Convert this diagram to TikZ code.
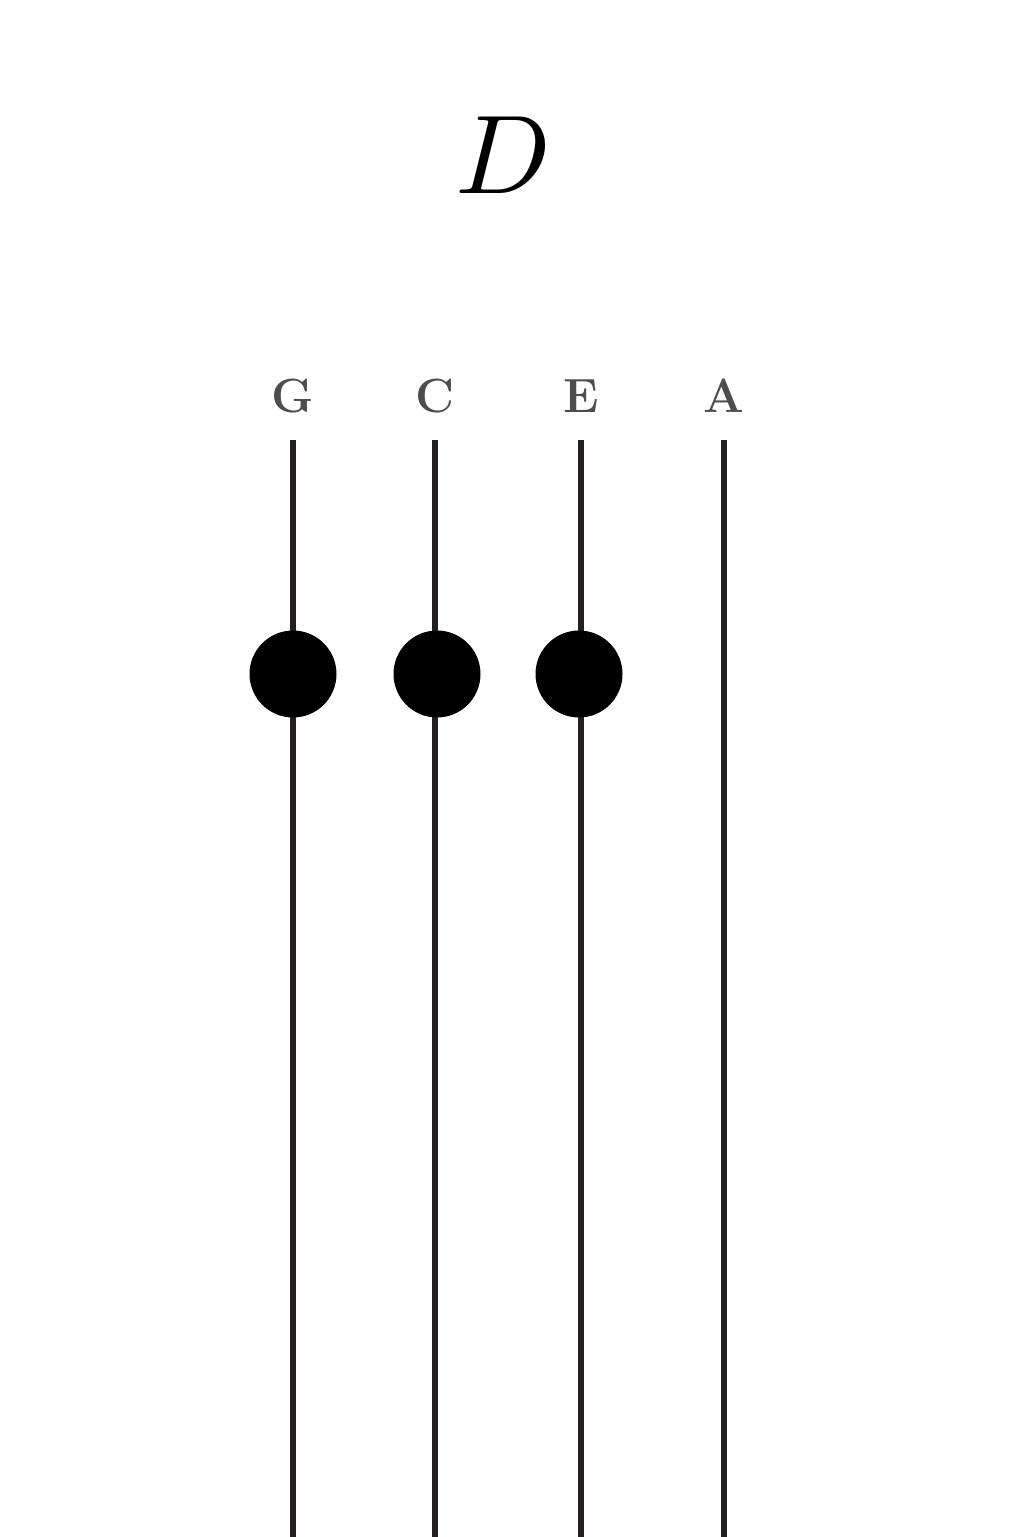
\documentclass[tikz,border=0pt]{standalone}
\usetikzlibrary{positioning, calc}
\definecolor{StringDark}{HTML}{231F20}
\definecolor{LabelGray}{HTML}{4D4D4D}
\tikzset{
    stringline/.style={line width=3pt, color=StringDark},
    fingerdot/.style={circle, fill=black, inner sep=0pt, minimum size=43.5pt},
    stringlabel/.style={text=LabelGray, font=\fontsize{24}{28}\selectfont\bfseries, anchor=base},
}

\begin{document}
\begin{tikzpicture}[x=0.5pt, y=-0.5pt]
    % Bounding box (pixel coordinates)
    \useasboundingbox (0,0) rectangle (1016,1537);

    % --- Titolo ---
    \node[scale=5.6] (title) at (503,155) {$D$};

    % --- Corde ---
    \foreach \name/\x in {G/293, C/435, E/581, A/724} {
        \coordinate (top\name) at (\x,440);
        \coordinate (bot\name) at (\x,1537);
        \node[stringlabel] (lab\name) at (\x,412) {\name};
        \draw[stringline] (top\name) -- (bot\name);
    }

    % --- Dita ---
    \node[fingerdot] (dotG) at (293,674) {};
    \node[fingerdot] (dotC) at (437,674) {};
    \node[fingerdot] (dotE) at (579,674) {};
\end{tikzpicture}
\end{document}
